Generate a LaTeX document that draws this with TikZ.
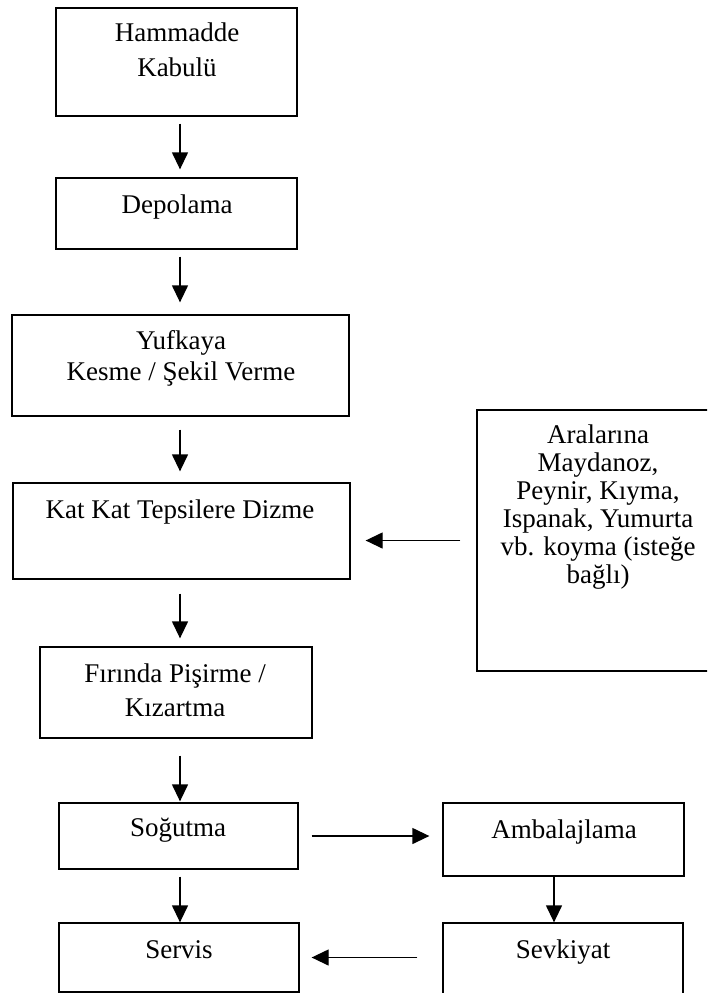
\documentclass[tikz,border=0pt]{standalone}
\usepackage{fontspec}
\setmainfont{Liberation Serif}
\usetikzlibrary{arrows.meta, positioning}

\begin{document}
\begin{tikzpicture}[x=1pt, y=-1pt,
  box/.style={draw, line width=1.3pt, rectangle, inner sep=0pt},
  txt/.style={font=\fontsize{27}{30}\selectfont, align=center, inner sep=0pt},
  flow/.style={-{Triangle[length=17pt, width=16pt]}, line width=1.3pt}]
\useasboundingbox (0,0) rectangle (707,993);
\clip (0,0) rectangle (707,993);
% boxes
\node[box, minimum width=241pt, minimum height=108pt] (kabul) at (176.5,62) {};
\node[box, minimum width=241pt, minimum height=71pt] (depo) at (176.5,213.5) {};
\node[box, minimum width=337pt, minimum height=101pt] (kesme) at (180.5,365.5) {};
\node[box, minimum width=337pt, minimum height=96pt] (dizme) at (181.5,531) {};
\node[box, minimum width=242pt, minimum height=261pt] (ekle) at (598,540.5) {};
\node[box, minimum width=272pt, minimum height=91pt] (pisirme) at (176,692.5) {};
\node[box, minimum width=239pt, minimum height=66pt] (sogutma) at (178.5,836) {};
\node[box, minimum width=240pt, minimum height=69pt] (servis) at (179,957.5) {};
\node[box, minimum width=241pt, minimum height=73pt] (ambalaj) at (563.5,839.5) {};
\node[box, minimum width=240pt, minimum height=87pt] (sevk) at (563,966.5) {};
% texts
\node[txt] (kabul-t) at (177,50) {Hammadde\\[5pt]Kabulü};
\node[txt] (depo-t) at (177,207) {Depolama};
\node[txt] (kesme-t) at (181,358) {Yufkaya\\[1pt]Kesme / Şekil Verme};
\node[txt] (dizme-t) at (180,512) {Kat Kat Tepsilere Dizme};
\node[txt, font=\fontsize{27}{28}\selectfont] (ekle-t) at (598,507) {Aralarına\\Maydanoz,\\Peynir, Kıyma,\\Ispanak, Yumurta\\vb. koyma (isteğe\\bağlı)};
\node[txt] (pisirme-t) at (175,690) {Fırında Pişirme /\\[4pt]Kızartma};
\node[txt] (sogutma-t) at (178,830) {Soğutma};
\node[txt] (servis-t) at (179,950) {Servis};
\node[txt] (ambalaj-t) at (564,832) {Ambalajlama};
\node[txt] (sevk-t) at (563,952) {Sevkiyat};
% connectors
\coordinate (axis) at (180,0);
\coordinate (axisr) at (554,0);
\draw[flow, shorten <=7pt, shorten >=8pt] (kabul.south -| axis) -- (depo.north -| axis);
\draw[flow, shorten <=7pt, shorten >=12pt] (depo.south -| axis) -- (kesme.north -| axis);
\draw[flow, shorten <=13pt, shorten >=11pt] (kesme.south -| axis) -- (dizme.north -| axis);
\draw[flow, shorten <=14pt, shorten >=8pt] (dizme.south -| axis) -- (pisirme.north -| axis);
\draw[flow, shorten <=17pt, shorten >=1pt] (pisirme.south -| axis) -- (sogutma.north -| axis);
\draw[flow, shorten <=7pt] (sogutma.south -| axis) -- (servis.north -| axis);
\draw[flow, shorten <=16pt, shorten >=15pt] (ekle.west) -- (ekle.west -| dizme.east);
\draw[flow, shorten <=13pt, shorten >=13pt] (sogutma.east) -- (sogutma.east -| ambalaj.west);
\draw[flow] (ambalaj.south -| axisr) -- (sevk.north -| axisr);
\draw[flow, shorten <=25pt, shorten >=12pt] (servis.east -| sevk.west) -- (servis.east);
\end{tikzpicture}
\end{document}
